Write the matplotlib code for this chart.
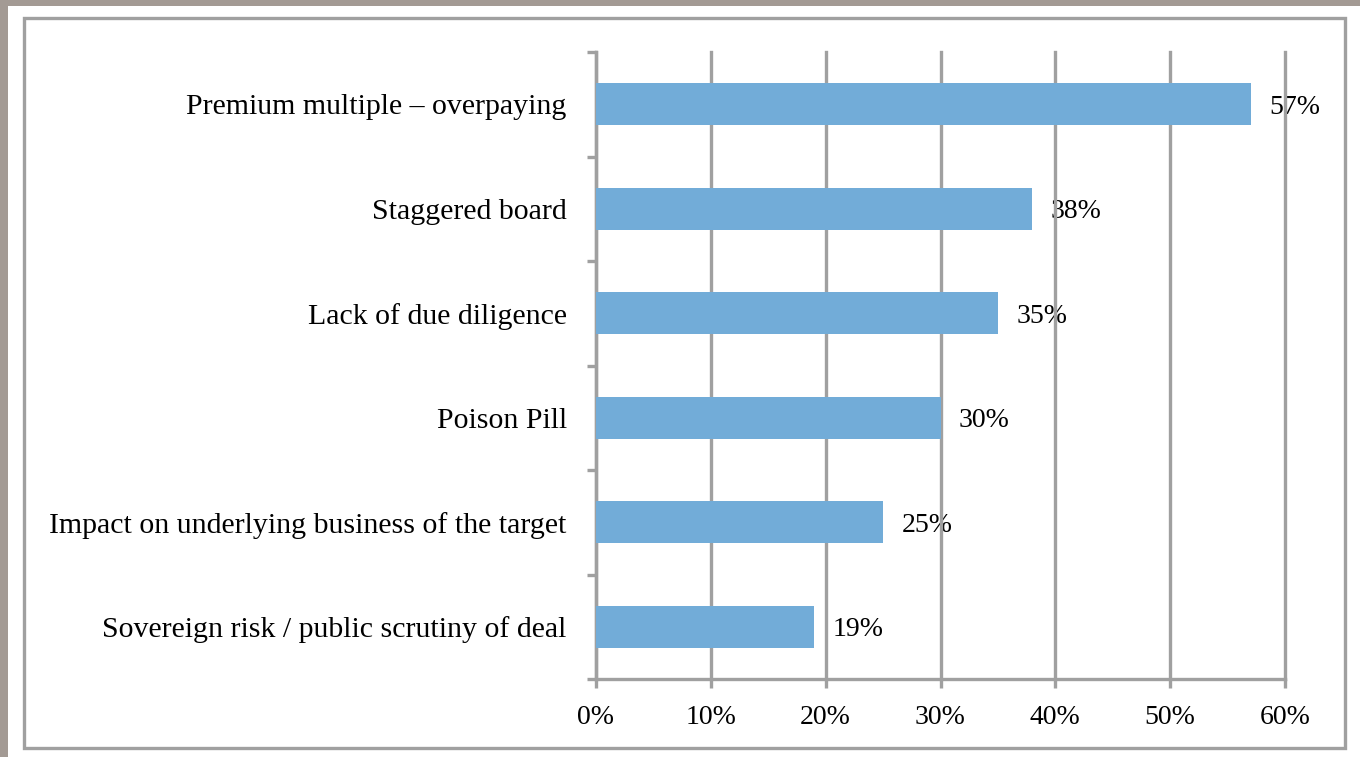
import matplotlib.pyplot as plt
from matplotlib.patches import Rectangle
from matplotlib.ticker import FuncFormatter

# survey results, listed top to bottom
categories = [
    'Premium multiple – overpaying',
    'Staggered board',
    'Lack of due diligence',
    'Poison Pill',
    'Impact on underlying business of the target',
    'Sovereign risk / public scrutiny of deal',
]
values = [57, 38, 35, 30, 25, 19]

W, H = 1360, 757
fig = plt.figure(figsize=(W / 100, H / 100), dpi=100)
fig.patch.set_facecolor('white')
plt.rcParams['font.family'] = ['Liberation Serif', 'DejaVu Serif']

# page background strips and the grey frame round the chart
brown = '#a39a94'
fig.patches.append(Rectangle((0, 1 - 6 / H), 1, 6 / H, transform=fig.transFigure,
                             facecolor=brown, edgecolor='none', zorder=0))
fig.patches.append(Rectangle((0, 0), 8 / W, 1, transform=fig.transFigure,
                             facecolor=brown, edgecolor='none', zorder=0))
fig.patches.append(Rectangle((24 / W, 1 - 748 / H), (1345 - 24) / W, (748 - 18) / H,
                             transform=fig.transFigure, facecolor='none',
                             edgecolor='#a0a0a0', linewidth=2.4, zorder=1))

ax = fig.add_axes([596 / W, 1 - 679 / H, (1285 - 596) / W, (679 - 52) / H])
grey = '#a0a0a0'

pos = list(range(len(categories)))[::-1]
ax.barh(pos, values, height=0.4, color='#72acd8', zorder=3)
# value labels sit under the gridlines
for p, v in zip(pos, values):
    ax.text(v + 1.6, p, f'{v}%', va='center_baseline', ha='left', fontsize=20, zorder=0.5)

ax.set_xlim(0, 60)
ax.set_ylim(-0.5, len(categories) - 0.5)
ax.set_xticks(range(0, 61, 10))
ax.xaxis.set_major_formatter(FuncFormatter(lambda x, _: f'{x:.0f}%'))
ax.set_yticks(pos)
ax.set_yticklabels(categories)
ax.set_yticks([p - 0.5 for p in range(len(categories) + 1)], minor=True)

ax.grid(axis='x', color=grey, linewidth=2.4, zorder=1)
for line in ax.get_xgridlines():
    line.set_clip_on(False)
for side in ['top', 'right']:
    ax.spines[side].set_visible(False)
for side in ['left', 'bottom']:
    ax.spines[side].set_color(grey)
    ax.spines[side].set_linewidth(2.4)

ax.tick_params(axis='x', length=6.5, width=2.4, color=grey, labelsize=20, pad=12)
ax.tick_params(axis='y', which='major', length=0, labelsize=21.5, pad=21)
ax.tick_params(axis='y', which='minor', length=6.5, width=2.4, color=grey)

fig.savefig('out.png', dpi=100)
